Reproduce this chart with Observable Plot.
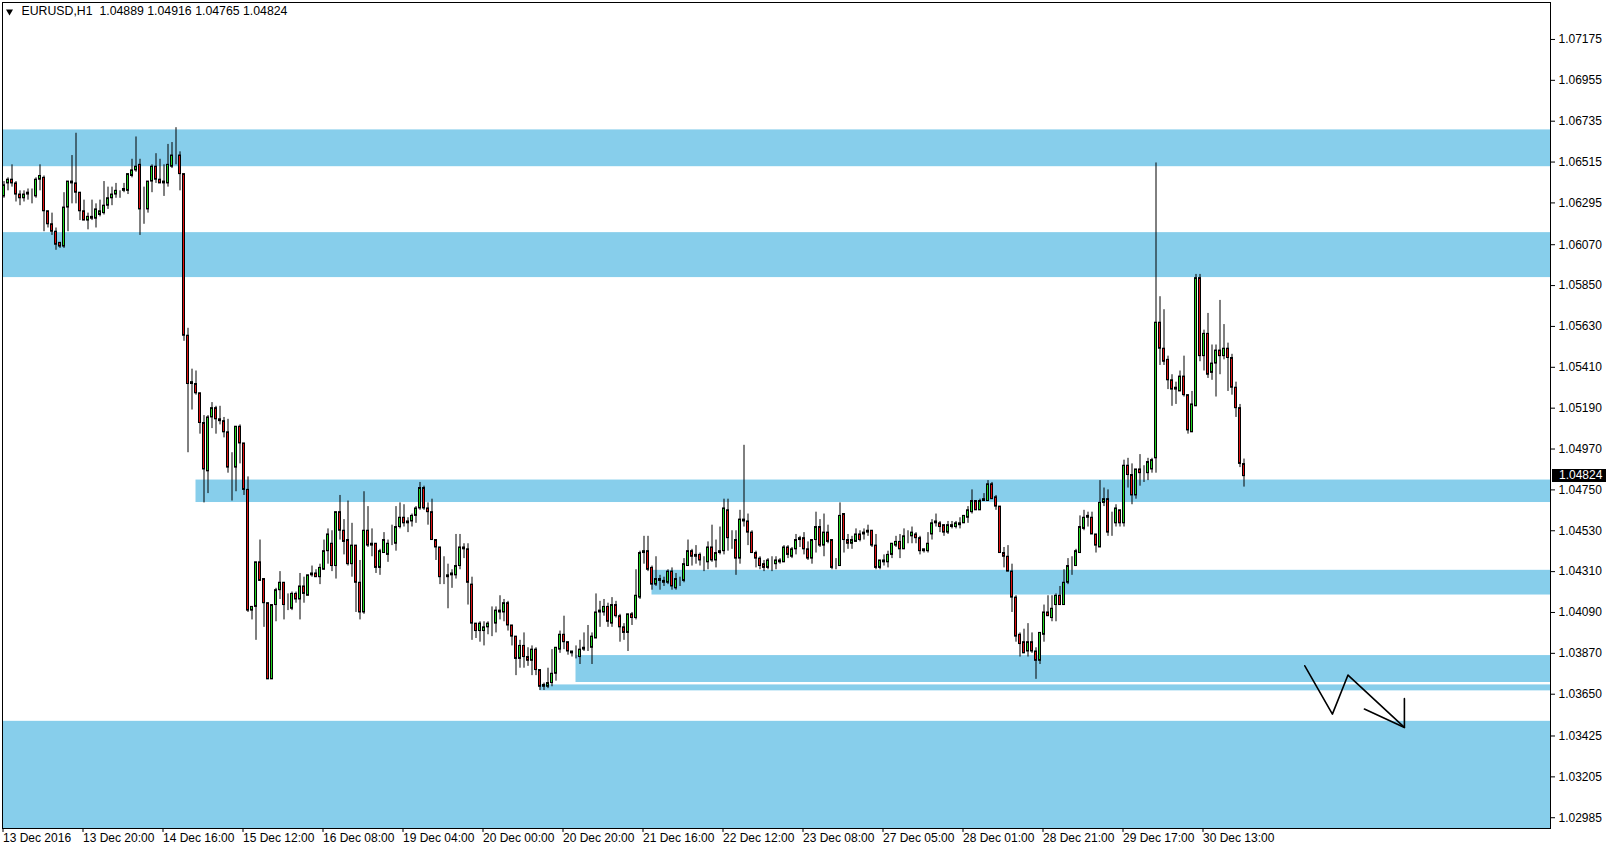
<!DOCTYPE html>
<html>
<head>
<meta charset="utf-8">
<script src="https://cdn.jsdelivr.net/npm/d3@7"></script>
<script src="https://cdn.jsdelivr.net/npm/@observablehq/plot@0.6"></script>
<style>
html, body { margin: 0; padding: 0; background: #ffffff; }
#chart svg { display: block; }
</style>
</head>
<body>
<div id="chart"></div>
<script>
const symbol = "EURUSD,H1";

const open = [
1.0633,1.0640,1.0642,1.0640,1.0634,1.0632,1.0634,1.0634,1.0633,1.0642,
1.0643,1.0625,1.0618,1.0614,1.0608,1.0606,1.0627,1.0641,1.0640,1.0635,
1.0625,1.0620,1.0622,1.0621,1.0623,1.0624,1.0628,1.0632,1.0634,1.0636,
1.0636,1.0636,1.0644,1.0647,1.0650,1.0626,1.0626,1.0641,1.0649,1.0642,
1.0641,1.0640,1.0649,1.0655,1.0655,1.0645,1.0558,1.0532,1.0532,1.0527,
1.0511,1.0485,1.0514,1.0519,1.0513,1.0512,1.0506,1.0487,1.0487,1.0509,
1.0500,1.0475,1.0410,1.0412,1.0436,1.0427,1.0414,1.0373,1.0413,1.0421,
1.0425,1.0413,1.0411,1.0419,1.0416,1.0423,1.0418,1.0429,1.0430,1.0428,
1.0432,1.0442,1.0446,1.0434,1.0463,1.0453,1.0448,1.0435,1.0445,1.0425,
1.0409,1.0453,1.0445,1.0446,1.0433,1.0441,1.0440,1.0446,1.0446,1.0455,
1.0460,1.0458,1.0458,1.0461,1.0465,1.0476,1.0465,1.0463,1.0448,1.0444,
1.0428,1.0428,1.0429,1.0429,1.0434,1.0444,1.0443,1.0424,1.0403,1.0399,
1.0399,1.0401,1.0403,1.0403,1.0409,1.0409,1.0414,1.0402,1.0396,1.0384,
1.0391,1.0385,1.0383,1.0389,1.0378,1.0369,1.0369,1.0371,1.0376,1.0389,
1.0397,1.0393,1.0388,1.0389,1.0385,1.0389,1.0390,1.0390,1.0395,1.0409,
1.0409,1.0412,1.0403,1.0413,1.0407,1.0401,1.0398,1.0408,1.0406,1.0417,
1.0441,1.0442,1.0433,1.0424,1.0427,1.0426,1.0425,1.0431,1.0422,1.0426,
1.0426,1.0434,1.0442,1.0439,1.0440,1.0437,1.0436,1.0444,1.0437,1.0441,
1.0442,1.0464,1.0449,1.0448,1.0438,1.0459,1.0458,1.0452,1.0441,1.0438,
1.0435,1.0433,1.0434,1.0435,1.0437,1.0436,1.0444,1.0439,1.0443,1.0448,
1.0449,1.0443,1.0438,1.0448,1.0455,1.0445,1.0452,1.0448,1.0434,1.0434,
1.0462,1.0448,1.0446,1.0447,1.0451,1.0451,1.0452,1.0453,1.0445,1.0433,
1.0437,1.0436,1.0440,1.0445,1.0447,1.0443,1.0450,1.0450,1.0451,1.0449,
1.0442,1.0442,1.0451,1.0457,1.0457,1.0456,1.0452,1.0456,1.0455,1.0456,
1.0457,1.0460,1.0463,1.0469,1.0464,1.0469,1.0469,1.0478,1.0471,1.0466,
1.0441,1.0439,1.0431,1.0417,1.0397,1.0393,1.0388,1.0393,1.0388,1.0383,
1.0397,1.0409,1.0406,1.0413,1.0418,1.0413,1.0425,1.0434,1.0434,1.0441,
1.0454,1.0460,1.0460,1.0451,1.0444,1.0468,1.0470,1.0453,1.0457,1.0464,
1.0457,1.0488,1.0483,1.0472,1.0486,1.0484,1.0484,1.0486,1.0492,1.0565,
1.0551,1.0545,1.0534,1.0530,1.0528,1.0536,1.0526,1.0506,1.0520,1.0589,
1.0547,1.0559,1.0538,1.0543,1.0550,1.0547,1.0551,1.0546,1.0530,1.0519,
1.04889];

const high = [
1.0641,1.0643,1.0650,1.0641,1.0636,1.0636,1.0637,1.0637,1.0643,1.0650,
1.0644,1.0625,1.0624,1.0616,1.0608,1.0635,1.0641,1.0655,1.0667,1.0635,
1.0631,1.0624,1.0631,1.0629,1.0631,1.0641,1.0638,1.0638,1.0640,1.0636,
1.0640,1.0645,1.0653,1.0665,1.0653,1.0638,1.0641,1.0650,1.0656,1.0653,
1.0650,1.0661,1.0662,1.0670,1.0657,1.0645,1.0562,1.0540,1.0539,1.0527,
1.0515,1.0515,1.0522,1.0520,1.0520,1.0514,1.0513,1.0495,1.0509,1.0510,
1.0500,1.0482,1.0412,1.0436,1.0448,1.0427,1.0414,1.0413,1.0422,1.0431,
1.0425,1.0419,1.0420,1.0420,1.0430,1.0428,1.0429,1.0434,1.0432,1.0435,
1.0448,1.0454,1.0453,1.0463,1.0472,1.0459,1.0469,1.0457,1.0445,1.0437,
1.0474,1.0466,1.0454,1.0446,1.0443,1.0452,1.0448,1.0456,1.0466,1.0468,
1.0467,1.0460,1.0462,1.0466,1.0479,1.0477,1.0468,1.0470,1.0448,1.0444,
1.0439,1.0435,1.0432,1.0451,1.0451,1.0446,1.0446,1.0428,1.0403,1.0404,
1.0404,1.0404,1.0412,1.0412,1.0418,1.0416,1.0415,1.0402,1.0396,1.0394,
1.0398,1.0390,1.0391,1.0390,1.0378,1.0371,1.0379,1.0389,1.0390,1.0399,
1.0407,1.0393,1.0388,1.0391,1.0394,1.0398,1.0402,1.0398,1.0419,1.0415,
1.0416,1.0414,1.0417,1.0415,1.0408,1.0403,1.0408,1.0409,1.0432,1.0442,
1.0450,1.0450,1.0434,1.0439,1.0429,1.0428,1.0432,1.0433,1.0430,1.0428,
1.0438,1.0448,1.0443,1.0445,1.0441,1.0439,1.0447,1.0456,1.0448,1.0455,
1.0470,1.0470,1.0453,1.0453,1.0464,1.0499,1.0462,1.0453,1.0442,1.0439,
1.0437,1.0438,1.0439,1.0439,1.0438,1.0445,1.0445,1.0444,1.0451,1.0450,
1.0452,1.0447,1.0448,1.0463,1.0459,1.0462,1.0456,1.0448,1.0438,1.0468,
1.0462,1.0451,1.0450,1.0454,1.0453,1.0454,1.0456,1.0453,1.0451,1.0437,
1.0440,1.0442,1.0446,1.0450,1.0451,1.0454,1.0453,1.0455,1.0452,1.0450,
1.0443,1.0452,1.0459,1.0462,1.0458,1.0456,1.0458,1.0458,1.0458,1.0460,
1.0461,1.0466,1.0475,1.0469,1.0470,1.0473,1.0480,1.0479,1.0472,1.0466,
1.0444,1.0445,1.0435,1.0418,1.0398,1.0400,1.0403,1.0398,1.0390,1.0398,
1.0413,1.0418,1.0418,1.0419,1.0423,1.0432,1.0438,1.0439,1.0443,1.0461,
1.0464,1.0463,1.0463,1.0451,1.0480,1.0476,1.0475,1.0463,1.0467,1.0464,
1.0491,1.0492,1.0489,1.0486,1.0494,1.0488,1.0492,1.0492,1.0651,1.0579,
1.0572,1.0547,1.0537,1.0533,1.0539,1.0547,1.0526,1.0528,1.0591,1.0591,
1.0561,1.0570,1.0553,1.0553,1.0577,1.0564,1.0554,1.0548,1.0533,1.0521,
1.04916];

const low = [
1.0632,1.0636,1.0638,1.0630,1.0628,1.0630,1.0631,1.0629,1.0632,1.0636,
1.0614,1.0616,1.0612,1.0604,1.0605,1.0605,1.0614,1.0629,1.0629,1.0620,
1.0620,1.0615,1.0620,1.0616,1.0622,1.0623,1.0626,1.0628,1.0632,1.0632,
1.0635,1.0634,1.0643,1.0646,1.0612,1.0618,1.0624,1.0635,1.0640,1.0640,
1.0633,1.0638,1.0648,1.0650,1.0636,1.0555,1.0495,1.0518,1.0526,1.0505,
1.0468,1.0473,1.0508,1.0505,1.0510,1.0503,1.0484,1.0469,1.0474,1.0489,
1.0472,1.0409,1.0405,1.0394,1.0426,1.0401,1.0373,1.0373,1.0404,1.0416,
1.0405,1.0410,1.0410,1.0414,1.0405,1.0414,1.0418,1.0428,1.0428,1.0424,
1.0432,1.0435,1.0431,1.0427,1.0448,1.0440,1.0434,1.0428,1.0409,1.0405,
1.0408,1.0444,1.0439,1.0430,1.0429,1.0441,1.0436,1.0445,1.0442,1.0454,
1.0455,1.0452,1.0455,1.0457,1.0464,1.0464,1.0456,1.0448,1.0437,1.0424,
1.0424,1.0411,1.0422,1.0427,1.0432,1.0438,1.0413,1.0394,1.0395,1.0393,
1.0391,1.0397,1.0396,1.0398,1.0405,1.0404,1.0399,1.0391,1.0375,1.0379,
1.0379,1.0380,1.0375,1.0375,1.0367,1.0367,1.0368,1.0369,1.0372,1.0387,
1.0389,1.0386,1.0385,1.0384,1.0381,1.0388,1.0388,1.0381,1.0395,1.0401,
1.0407,1.0401,1.0401,1.0406,1.0393,1.0394,1.0388,1.0402,1.0405,1.0416,
1.0435,1.0431,1.0421,1.0423,1.0421,1.0423,1.0424,1.0421,1.0421,1.0423,
1.0425,1.0434,1.0434,1.0435,1.0434,1.0431,1.0432,1.0436,1.0433,1.0440,
1.0440,1.0442,1.0443,1.0429,1.0435,1.0455,1.0445,1.0441,1.0433,1.0432,
1.0431,1.0432,1.0431,1.0432,1.0435,1.0436,1.0438,1.0438,1.0440,1.0444,
1.0440,1.0437,1.0435,1.0441,1.0444,1.0439,1.0446,1.0432,1.0432,1.0434,
1.0441,1.0443,1.0443,1.0447,1.0447,1.0448,1.0450,1.0444,1.0432,1.0432,
1.0434,1.0433,1.0438,1.0444,1.0438,1.0443,1.0446,1.0446,1.0446,1.0440,
1.0441,1.0441,1.0448,1.0455,1.0452,1.0450,1.0451,1.0454,1.0454,1.0454,
1.0457,1.0457,1.0462,1.0464,1.0464,1.0469,1.0469,1.0470,1.0464,1.0441,
1.0433,1.0431,1.0409,1.0393,1.0385,1.0387,1.0385,1.0387,1.0373,1.0381,
1.0393,1.0407,1.0404,1.0404,1.0413,1.0413,1.0424,1.0429,1.0434,1.0441,
1.0453,1.0455,1.0451,1.0441,1.0444,1.0466,1.0450,1.0450,1.0455,1.0455,
1.0455,1.0476,1.0467,1.0470,1.0477,1.0479,1.0480,1.0484,1.0484,1.0542,
1.0542,1.0529,1.0520,1.0521,1.0528,1.0525,1.0505,1.0506,1.0520,1.0544,
1.0539,1.0535,1.0534,1.0525,1.0537,1.0545,1.0528,1.0526,1.0514,1.0487,
1.04765];

const close = [
1.0639,1.0642,1.0640,1.0634,1.0632,1.0634,1.0635,1.0634,1.0642,1.0644,
1.0625,1.0618,1.0614,1.0607,1.0606,1.0627,1.0641,1.0640,1.0635,1.0625,
1.0620,1.0622,1.0621,1.0626,1.0625,1.0628,1.0632,1.0634,1.0636,1.0636,
1.0637,1.0645,1.0647,1.0649,1.0626,1.0626,1.0641,1.0649,1.0642,1.0640,
1.0640,1.0650,1.0655,1.0655,1.0645,1.0558,1.0532,1.0533,1.0527,1.0511,
1.0486,1.0514,1.0519,1.0513,1.0512,1.0506,1.0487,1.0487,1.0509,1.0500,
1.0475,1.0410,1.0412,1.0436,1.0426,1.0414,1.0373,1.0413,1.0421,1.0425,
1.0413,1.0413,1.0419,1.0416,1.0423,1.0419,1.0429,1.0430,1.0428,1.0433,
1.0442,1.0451,1.0434,1.0463,1.0453,1.0447,1.0435,1.0445,1.0425,1.0409,
1.0453,1.0445,1.0446,1.0433,1.0442,1.0448,1.0446,1.0446,1.0455,1.0460,
1.0457,1.0457,1.0461,1.0465,1.0476,1.0465,1.0463,1.0448,1.0444,1.0428,
1.0428,1.0429,1.0430,1.0434,1.0444,1.0443,1.0425,1.0403,1.0399,1.0403,
1.0401,1.0403,1.0403,1.0410,1.0410,1.0414,1.0402,1.0396,1.0384,1.0391,
1.0385,1.0383,1.0389,1.0378,1.0369,1.0370,1.0371,1.0376,1.0390,1.0397,
1.0393,1.0388,1.0387,1.0389,1.0389,1.0390,1.0390,1.0396,1.0409,1.0410,
1.0412,1.0404,1.0413,1.0407,1.0401,1.0398,1.0408,1.0406,1.0418,1.0441,
1.0442,1.0432,1.0424,1.0427,1.0426,1.0425,1.0431,1.0423,1.0427,1.0426,
1.0435,1.0442,1.0439,1.0440,1.0437,1.0437,1.0444,1.0437,1.0441,1.0442,
1.0465,1.0449,1.0449,1.0438,1.0459,1.0458,1.0452,1.0441,1.0438,1.0434,
1.0433,1.0437,1.0434,1.0437,1.0436,1.0444,1.0440,1.0443,1.0448,1.0449,
1.0443,1.0438,1.0448,1.0455,1.0445,1.0452,1.0447,1.0433,1.0434,1.0461,
1.0448,1.0446,1.0448,1.0451,1.0448,1.0452,1.0453,1.0445,1.0433,1.0437,
1.0436,1.0440,1.0446,1.0447,1.0443,1.0450,1.0450,1.0452,1.0449,1.0442,
1.0443,1.0446,1.0457,1.0458,1.0455,1.0452,1.0456,1.0455,1.0457,1.0457,
1.0461,1.0464,1.0469,1.0464,1.0469,1.0470,1.0478,1.0470,1.0466,1.0441,
1.0439,1.0431,1.0417,1.0396,1.0392,1.0387,1.0393,1.0388,1.0383,1.0398,
1.0409,1.0407,1.0411,1.0418,1.0413,1.0425,1.0434,1.0434,1.0442,1.0455,
1.0460,1.0461,1.0451,1.0445,1.0468,1.0470,1.0452,1.0453,1.0465,1.0457,
1.0488,1.0483,1.0472,1.0486,1.0484,1.0484,1.0490,1.0491,1.0565,1.0551,
1.0544,1.0534,1.0529,1.0529,1.0536,1.0526,1.0507,1.0521,1.0589,1.0547,
1.0559,1.0537,1.0543,1.0550,1.0547,1.0551,1.0546,1.0530,1.0519,1.0489,
1.04824];

const dateTicks = [0,20,40,60,80,100,120,140,160,180,200,220,240,260,280,300];
const dateLabels = ["13 Dec 2016","13 Dec 20:00","14 Dec 16:00","15 Dec 12:00","16 Dec 08:00",
  "19 Dec 04:00","20 Dec 00:00","20 Dec 20:00","21 Dec 16:00","22 Dec 12:00","23 Dec 08:00",
  "27 Dec 05:00","28 Dec 01:00","28 Dec 21:00","29 Dec 17:00","30 Dec 13:00"];

const priceTicks = [1.07175,1.06955,1.06735,1.06515,1.06295,1.06070,1.05850,1.05630,1.05410,1.05190,
  1.04970,1.04750,1.04530,1.04310,1.04090,1.03870,1.03650,1.03425,1.03205,1.02985];

// support / resistance zones (start bar, top price, bottom price)
const zoneStart  = [-1,      -1,      48,      162,     143,     134,     -1];
const zoneTop    = [1.06688, 1.06135, 1.04803, 1.04317, 1.03858, 1.03700, 1.03504];
const zoneBottom = [1.06490, 1.05893, 1.04682, 1.04184, 1.03713, 1.03668, 1.02900];

// hand-drawn zig-zag arrow (bar, price)
const arrowBar = [325.2, 332.1, 336.0, 350.1];
const arrowPrice = [1.03803, 1.03543, 1.03753, 1.03471];
const arrowHeadBar = [340.1, 350.1, 350.1];
const arrowHeadPrice = [1.03570, 1.03471, 1.03626];

const xDomain = [-0.375, 386.625];
const yDomain = [1.02927, 1.07374];

const candles = open.map((o, i) => ({i, open: o, high: high[i], low: low[i], close: close[i]}));
const zones = zoneStart.map((s, k) => ({start: s, top: zoneTop[k], bottom: zoneBottom[k]}));
const arrow = arrowBar.map((b, k) => ({b, p: arrowPrice[k]}));
const arrowHead = arrowHeadBar.map((b, k) => ({b, p: arrowHeadPrice[k]}));
const last = candles[candles.length - 1];
const title = `${symbol}\u00a0\u00a0${last.open.toFixed(5)} ${last.high.toFixed(5)} ${last.low.toFixed(5)} ${last.close.toFixed(5)}`;

function priceLabel(index, scales, values, dimensions) {
  const y = scales.y(last.close);
  const x0 = dimensions.width - dimensions.marginRight + 2;
  const g = d3.create("svg:g");
  g.append("rect").attr("x", x0).attr("y", Math.round(y) - 7).attr("width", 54).attr("height", 13).attr("fill", "black");
  g.append("text").attr("x", x0 + 7).attr("y", y).attr("dy", "0.32em").attr("fill", "white")
    .attr("text-anchor", "start").attr("font-size", 12).text(last.close.toFixed(5));
  return g.node();
}

const chart = Plot.plot({
  width: 1610,
  height: 852,
  marginLeft: 2,
  marginRight: 60,
  marginTop: 2,
  marginBottom: 24,
  style: {fontFamily: "'Liberation Sans', Arial, sans-serif", fontSize: "12px", background: "#ffffff", color: "#000000"},
  x: {type: "linear", domain: xDomain},
  y: {type: "linear", domain: yDomain},
  marks: [
    Plot.rect(zones, {x1: "start", x2: () => xDomain[1], y1: "bottom", y2: "top", fill: "#87CEEB", clip: true}),
    Plot.line(arrow, {x: "b", y: "p", stroke: "black", strokeWidth: 1.6}),
    Plot.line(arrowHead, {x: "b", y: "p", stroke: "black", strokeWidth: 1.6}),
    Plot.ruleX(candles, {x: "i", y1: "low", y2: "high", stroke: "black", strokeWidth: 1, clip: true}),
    Plot.rect(candles, {
      x1: d => d.i - 0.25, x2: d => d.i + 0.25,
      y1: d => Math.min(d.open, d.close), y2: d => Math.max(d.open, d.close),
      fill: d => d.close >= d.open ? "#22d422" : "#dd1111",
      stroke: "black", strokeWidth: 1, clip: true
    }),
    Plot.frame({stroke: "black"}),
    Plot.axisY(priceTicks, {anchor: "right", tickSize: 4, tickPadding: 4, tickFormat: d => d.toFixed(5), label: null, fill: "black"}),
    Plot.axisX(dateTicks, {anchor: "bottom", tickSize: 4, tickPadding: 1, textAnchor: "start", dx: -1,
      tickFormat: d => dateLabels[dateTicks.indexOf(d)], label: null, fill: "black"}),
    Plot.dot([0], {frameAnchor: "top-left", dx: 7, dy: 9, symbol: "triangle", rotate: 180, r: 2.6, fill: "black", stroke: null}),
    Plot.text([title], {frameAnchor: "top-left", dx: 19, dy: 4, textAnchor: "start", lineAnchor: "top", fill: "black", fontSize: 12.3}),
    priceLabel
  ]
});

document.getElementById("chart").appendChild(chart);
</script>
</body>
</html>
